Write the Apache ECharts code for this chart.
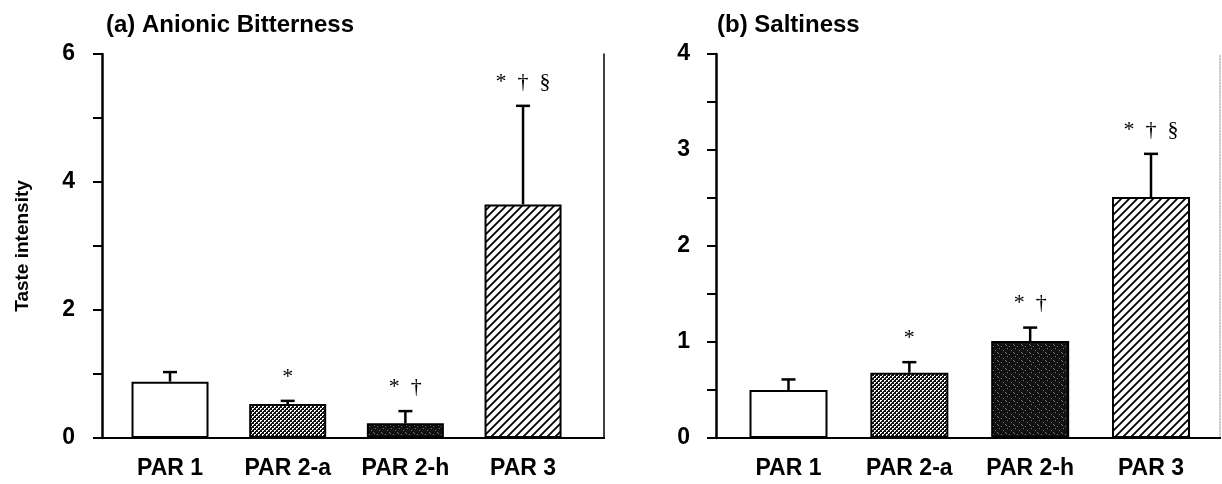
<!DOCTYPE html>
<html>
<head>
<meta charset="utf-8">
<script src="https://cdn.jsdelivr.net/npm/echarts@6/dist/echarts.min.js"></script>
<style>
  html, body { margin: 0; padding: 0; background: #fff; }
  #chart { width: 1222px; height: 484px; }
</style>
</head>
<body>
<div id="chart"></div>
<script>
// data
const groups = ['PAR 1', 'PAR 2-a', 'PAR 2-h', 'PAR 3'];
const bitterMean = [0.88, 0.53, 0.23, 3.65];
const bitterErr = [0.15, 0.05, 0.19, 1.54];
const saltMean = [0.50, 0.68, 1.01, 2.51];
const saltErr = [0.11, 0.11, 0.14, 0.45];
const bitterMarks = ['', '*', '*  \u2020', '*  \u2020  \u00a7'];
const saltMarks = ['', '*', '*  \u2020', '*  \u2020  \u00a7'];
const bitterTicks = [0, 2, 4, 6];
const saltTicks = [0, 1, 2, 3, 4];

// fill patterns for the four groups
function makePattern(size, draw) {
  const c = document.createElement('canvas');
  c.width = size; c.height = size;
  draw(c.getContext('2d'));
  return { image: c, repeat: 'repeat' };
}
const fills = [
  '#ffffff',
  makePattern(4, ctx => {
    ctx.fillStyle = '#111'; ctx.fillRect(0, 0, 4, 4);
    ctx.fillStyle = '#fff';
    ctx.fillRect(0, 0, 1, 1); ctx.fillRect(1, 0, 1, 1); ctx.fillRect(0, 1, 1, 1);
    ctx.fillRect(2, 2, 1, 1); ctx.fillRect(3, 2, 1, 1); ctx.fillRect(2, 3, 1, 1);
  }),
  makePattern(8, ctx => {
    ctx.fillStyle = '#111'; ctx.fillRect(0, 0, 8, 8);
    ctx.fillStyle = '#777';
    [[1, 2], [5, 0], [3, 6], [7, 4], [6, 1]].forEach(p => ctx.fillRect(p[0], p[1], 1, 1));
  }),
  makePattern(8, ctx => {
    ctx.fillStyle = '#fff'; ctx.fillRect(0, 0, 8, 8);
    ctx.strokeStyle = '#000'; ctx.lineWidth = 1.8;
    ctx.beginPath();
    ctx.moveTo(0, 8); ctx.lineTo(8, 0);
    ctx.moveTo(-1, 1); ctx.lineTo(1, -1);
    ctx.moveTo(7, 9); ctx.lineTo(9, 7);
    ctx.stroke();
  })
];

const boldFont = 'Liberation Sans, Arial, sans-serif';

function barData(means) {
  return means.map((v, i) => ({ value: [i + 1, v], itemStyle: { color: fills[i] } }));
}
function errData(means, errs) {
  return means.map((v, i) => [i + 1, v, errs[i], i]);
}
function errRender(marks) {
  return function (params, api) {
    const x = api.value(0), m = api.value(1), e = api.value(2), idx = api.value(3);
    const p0 = api.coord([x, m]);
    const p1 = api.coord([x, m + e]);
    const st = { stroke: '#000', lineWidth: 2.5 };
    const children = [
      { type: 'line', shape: { x1: p0[0], y1: p0[1], x2: p1[0], y2: p1[1] }, style: st },
      { type: 'line', shape: { x1: p1[0] - 7, y1: p1[1], x2: p1[0] + 7, y2: p1[1] }, style: st }
    ];
    if (marks[idx]) {
      children.push({
        type: 'text',
        style: {
          text: marks[idx], x: p1[0], y: p1[1] - 24,
          align: 'center', verticalAlign: 'middle',
          font: '22px "Liberation Serif", "Times New Roman", serif', fill: '#000'
        }
      });
    }
    return { type: 'group', children: children };
  };
}

function xAxes(gi, min, max) {
  return [
    {
      type: 'value', gridIndex: gi, min: min, max: max, position: 'bottom',
      splitLine: { show: false },
      axisLine: { lineStyle: { color: '#000', width: 2 } },
      axisTick: { show: false },
      axisLabel: {
        customValues: [1, 2, 3, 4],
        formatter: v => groups[Math.round(v) - 1] || '',
        color: '#000', fontWeight: 'bold', fontSize: 23, fontFamily: boldFont, margin: 19
      }
    },
    {
      type: 'value', gridIndex: gi, min: min, max: max, position: 'top',
      splitLine: { show: false },
      axisLine: { lineStyle: { color: '#000', width: 2 } },
      axisTick: { show: false }, axisLabel: { show: false }
    }
  ];
}

function yAxes(gi, max, step, labels, margin, rightColor, rightType) {
  return [
    {
      type: 'value', gridIndex: gi, min: 0, max: max, interval: step,
      name: gi === 0 ? 'Taste intensity' : '',
      nameLocation: 'middle', nameGap: 70, nameRotate: 90,
      nameTextStyle: { color: '#000', fontWeight: 'bold', fontSize: 19, fontFamily: boldFont },
      splitLine: { show: false },
      axisLine: { show: true, lineStyle: { color: '#000', width: 2.5 } },
      axisTick: { show: true, length: 9, lineStyle: { color: '#000', width: 2 } },
      axisLabel: {
        formatter: v => labels.indexOf(v) >= 0 ? String(v) : '',
        color: '#000', fontWeight: 'bold', fontSize: 23, fontFamily: boldFont, margin: margin
      }
    },
    {
      type: 'value', gridIndex: gi, min: 0, max: max, position: 'right',
      splitLine: { show: false },
      axisLine: { show: true, lineStyle: { color: rightColor, width: 1.5, type: rightType } },
      axisTick: { show: false }, axisLabel: { show: false }
    }
  ];
}

const chart = echarts.init(document.getElementById('chart'));
chart.setOption({
  backgroundColor: '#fff',
  animation: false,
  title: [
    { text: '(a) Anionic Bitterness', left: 101, top: 8,
      textStyle: { color: '#000', fontWeight: 'bold', fontSize: 24, fontFamily: boldFont } },
    { text: '(b) Saltiness', left: 712, top: 8,
      textStyle: { color: '#000', fontWeight: 'bold', fontSize: 24, fontFamily: boldFont } }
  ],
  grid: [
    { left: 102, right: 618, top: 54, bottom: 46 },
    { left: 716, right: 2, top: 54, bottom: 46 }
  ],
  xAxis: [].concat(xAxes(0, 0.422, 4.688), xAxes(1, 0.40, 4.571)),
  yAxis: [].concat(
    yAxes(0, 6, 1, bitterTicks, 27, '#000', 'solid'),
    yAxes(1, 4, 0.5, saltTicks, 26, '#bbb', 'dotted')
  ),
  series: [
    {
      type: 'bar', xAxisIndex: 0, yAxisIndex: 0, barWidth: 77,
      itemStyle: { borderColor: '#000', borderWidth: 2 },
      data: barData(bitterMean)
    },
    {
      type: 'custom', xAxisIndex: 0, yAxisIndex: 0, clip: false,
      renderItem: errRender(bitterMarks), data: errData(bitterMean, bitterErr), z: 3
    },
    {
      type: 'bar', xAxisIndex: 2, yAxisIndex: 2, barWidth: 78,
      itemStyle: { borderColor: '#000', borderWidth: 2 },
      data: barData(saltMean)
    },
    {
      type: 'custom', xAxisIndex: 2, yAxisIndex: 2, clip: false,
      renderItem: errRender(saltMarks), data: errData(saltMean, saltErr), z: 3
    }
  ]
});
</script>
</body>
</html>
